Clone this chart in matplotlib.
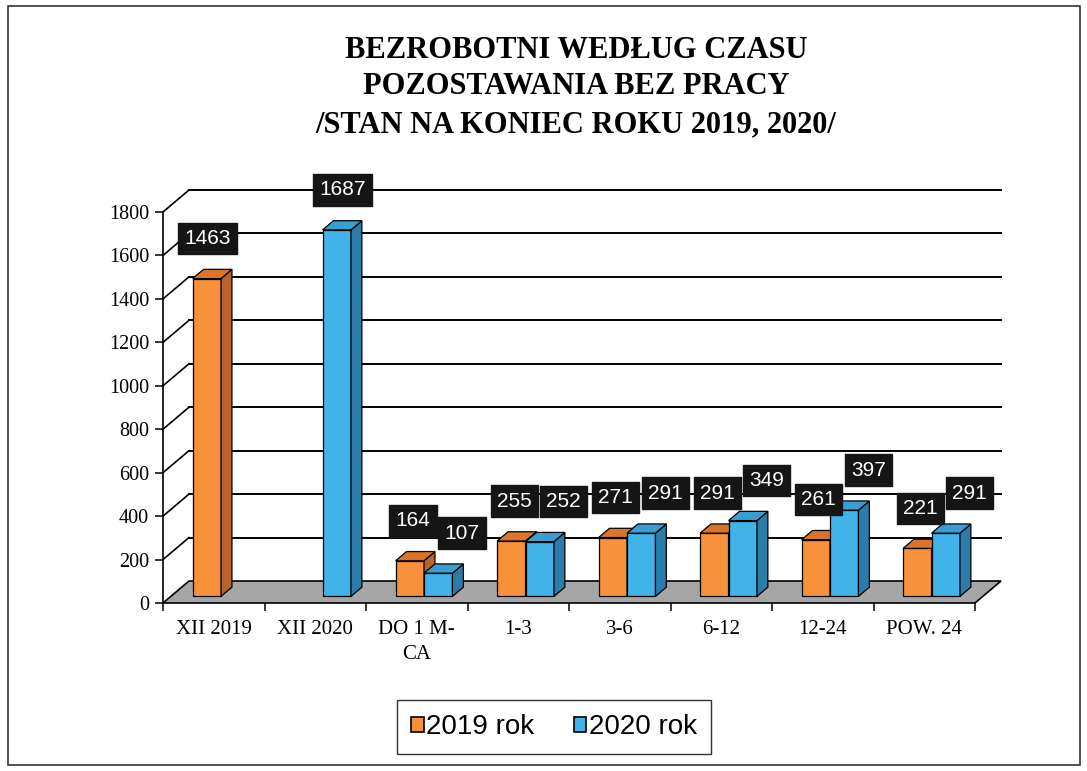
import matplotlib
matplotlib.use("Agg")
import matplotlib.pyplot as plt
from matplotlib.patches import Polygon, Rectangle, Patch
import numpy as np

categories = ["XII 2019", "XII 2020", "DO 1 M-\nCA", "1-3", "3-6", "6-12", "12-24", "POW. 24"]
values_2019 = [1463, None, 164, 255, 271, 291, 261, 221]
values_2020 = [None, 1687, 107, 252, 291, 349, 397, 291]
series_names = ["2019 rok", "2020 rok"]
yticks = list(range(0, 2000, 200))

title_lines = ["BEZROBOTNI WEDŁUG CZASU", "POZOSTAWANIA BEZ PRACY", "/STAN NA KONIEC ROKU 2019, 2020/"]

W, H = 1087, 771
fig = plt.figure(figsize=(W / 100, H / 100), dpi=100)
fig.patch.set_facecolor("white")

# front plane of the plot
L, R, B, T = 163, 975, 603, 212
ax = fig.add_axes([L / W, 1 - B / H, (R - L) / W, (B - T) / H])
n = len(categories)
ax.set_xlim(0, n)
ax.set_ylim(0, 1800)
ax.set_facecolor("none")

px_x = (R - L) / n
px_y = (B - T) / 1800
dx = 26 / px_x
dy = 22 / px_y

serif = "Liberation Serif"
sans = "Liberation Sans"

for s in ["top", "right", "bottom"]:
    ax.spines[s].set_visible(False)
ax.spines["left"].set_color("black")
ax.spines["left"].set_linewidth(1.2)
ax.set_yticks(yticks)
ax.set_yticklabels([str(v) for v in yticks], fontfamily=serif, fontsize=14.5)
ax.tick_params(axis="y", length=6, width=1.1, direction="out", pad=4)
ax.set_xticks(np.arange(n) + 0.5)
ax.set_xticklabels(categories, fontfamily=serif, fontsize=15, linespacing=1.45)
ax.tick_params(axis="x", length=0, pad=12)
ax.set_xticks(np.arange(n + 1), minor=True)
ax.tick_params(axis="x", which="minor", length=6, width=1.1, direction="out")

# gridlines on back and left walls
for v in yticks[1:]:
    ax.plot([dx, n + dx], [v + dy, v + dy], color="black", lw=1.4, clip_on=False, zorder=1)
    ax.plot([0, dx], [v, v + dy], color="black", lw=1.2, clip_on=False, zorder=1)

# floor
ax.add_patch(Polygon([(0, 0), (n, 0), (n + dx, dy), (dx, dy)], closed=True,
                     facecolor="#a6a6a6", edgecolor="black", lw=1.2, clip_on=False, zorder=2))

colors = [
    dict(front="#f7913b", top="#d9742b", side="#b9622a"),
    dict(front="#41b3e8", top="#3a9fd0", side="#2b7ca8"),
]
w = 0.28
fx, fy = 0.28 * dx, 0.3 * dy
sx, sy = 0.42 * dx, 0.42 * dy

both = [a is not None and b is not None for a, b in zip(values_2019, values_2020)]
labels = []
for i in range(n):
    for s, vals in enumerate([values_2019, values_2020]):
        v = vals[i]
        if v is None:
            continue
        x0 = i + 0.5 - w + s * w + fx
        base = fy
        top = fy + v
        c = colors[s]
        ax.add_patch(Polygon([(x0, base), (x0 + w, base), (x0 + w, top), (x0, top)], closed=True,
                             facecolor=c["front"], edgecolor="black", lw=0.9, clip_on=False, zorder=3))
        ax.add_patch(Polygon([(x0 + w, base), (x0 + w + sx, base + sy), (x0 + w + sx, top + sy), (x0 + w, top)],
                             closed=True, facecolor=c["side"], edgecolor="black", lw=0.9, clip_on=False, zorder=3))
        ax.add_patch(Polygon([(x0, top), (x0 + w, top), (x0 + w + sx, top + sy), (x0 + sx, top + sy)],
                             closed=True, facecolor=c["top"], edgecolor="black", lw=0.9, clip_on=False, zorder=3))
        if both[i]:
            off = 3 if s == 0 else 24
        else:
            off = 1 if s == 0 else 6
        labels.append((x0 + w / 2, top, v, off))

for x, y, v, off in labels:
    ax.annotate(str(v), xy=(x, y), xytext=(off, 40), textcoords="offset pixels",
                ha="center", va="center", color="white", fontsize=15, fontfamily=sans,
                bbox=dict(boxstyle="square,pad=0.3", fc="#151515", ec="#151515"),
                zorder=10, annotation_clip=False)

# title
for line, yy in zip(title_lines, [50, 87, 125]):
    fig.text(576 / W, 1 - yy / H, line, ha="center", va="center", fontfamily=serif,
             fontweight="bold", fontsize=22)

# legend
handles = [Patch(facecolor=colors[0]["front"], edgecolor="black", lw=1.2),
           Patch(facecolor=colors[1]["front"], edgecolor="black", lw=1.2)]
leg = fig.legend(handles, series_names, loc="center", bbox_to_anchor=(554 / W, 1 - 727 / H),
                 ncol=2, frameon=True, fancybox=False, edgecolor="black",
                 prop=dict(family=sans, size=20), handlelength=0.45, handleheight=0.45,
                 handletextpad=0.1, columnspacing=1.4, borderpad=0.5, borderaxespad=0)
leg.get_frame().set_linewidth(1.0)

# outer frame
fig.add_artist(Rectangle((8 / W, 6 / H), (1080 - 8) / W, (765 - 6) / H, transform=fig.transFigure,
                         fill=False, edgecolor="#333333", lw=1.2))

fig.savefig("out.png", dpi=100)
